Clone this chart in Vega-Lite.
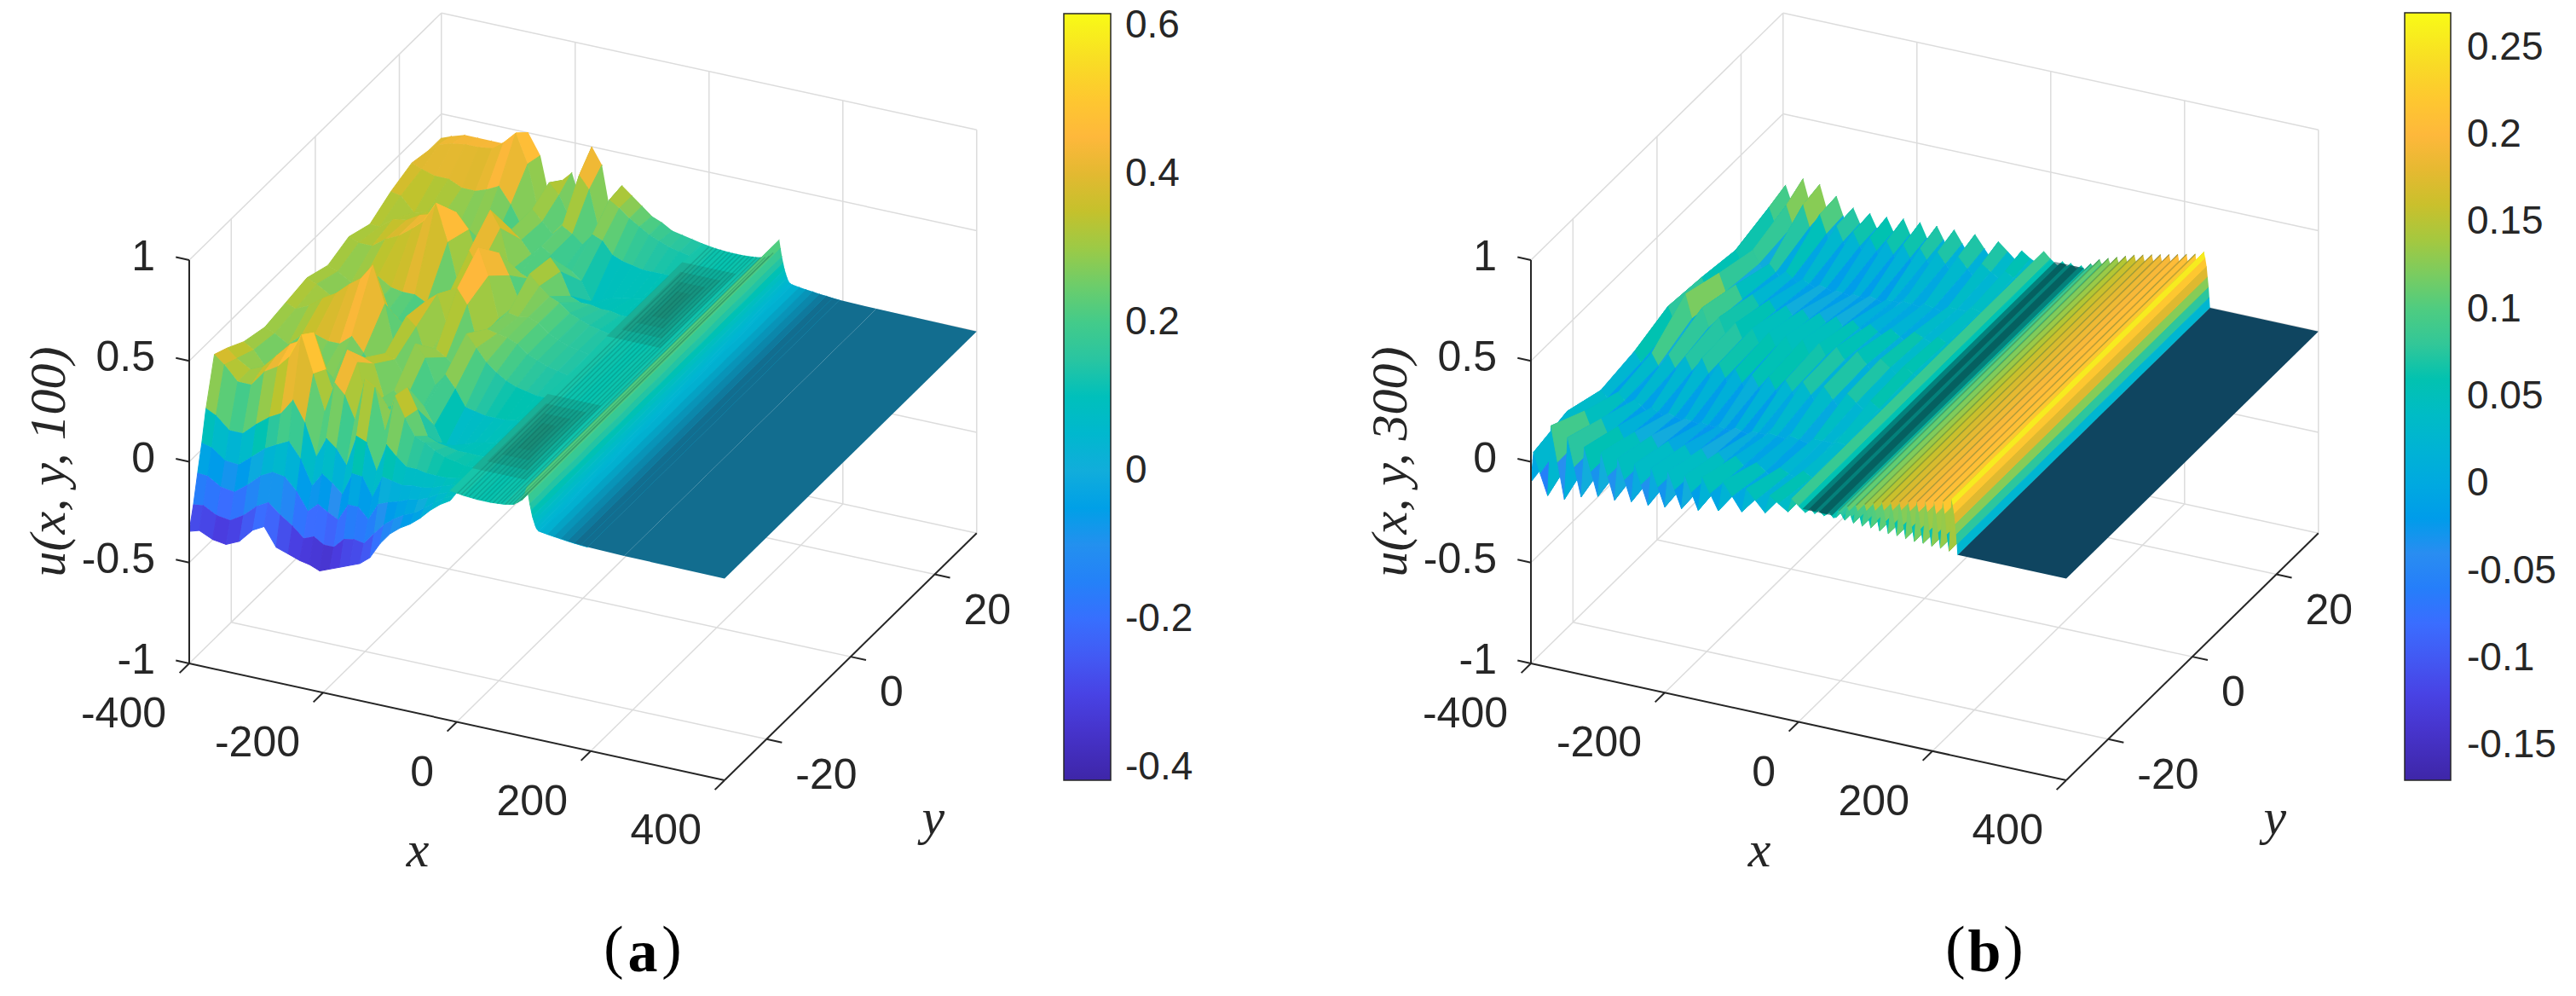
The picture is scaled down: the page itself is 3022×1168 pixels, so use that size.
{"$schema":"https://vega.github.io/schema/vega-lite/v6.json","width":3022,"height":1168,"padding":0,"autosize":{"type":"fit","contains":"padding"},"background":"white","config":{"view":{"stroke":null}},
"datasets":{
"surfA":[
{"x":-400,"y":30,"u":0.38},{"x":-400,"y":27,"u":0.38},{"x":-400,"y":23,"u":0.4},{"x":-400,"y":18,"u":0.36},{"x":-400,"y":13,"u":0.3},{"x":-400,"y":8,"u":0.34},{"x":-400,"y":3,"u":0.3},{"x":-400,"y":-2,"u":0.34},{"x":-400,"y":-7,"u":0.32},{"x":-400,"y":-12,"u":0.3},{"x":-400,"y":-17,"u":0.33},{"x":-400,"y":-21,"u":0.38},{"x":-400,"y":-24,"u":0.41},{"x":-400,"y":-26,"u":0.184},{"x":-400,"y":-27,"u":0.033},{"x":-400,"y":-28,"u":-0.096},{"x":-400,"y":-29,"u":-0.232},{"x":-400,"y":-30,"u":-0.345},
{"x":-385,"y":30,"u":0.4},{"x":-385,"y":27,"u":0.42},{"x":-385,"y":23,"u":0.38},{"x":-385,"y":18,"u":0.35},{"x":-385,"y":13,"u":0.3},{"x":-385,"y":8,"u":0.32},{"x":-385,"y":3,"u":0.28},{"x":-385,"y":-2,"u":0.32},{"x":-385,"y":-7,"u":0.3},{"x":-385,"y":-12,"u":0.28},{"x":-385,"y":-17,"u":0.3},{"x":-385,"y":-21,"u":0.34},{"x":-385,"y":-24,"u":0.37},{"x":-385,"y":-26,"u":0.16},{"x":-385,"y":-27,"u":0.02},{"x":-385,"y":-28,"u":-0.1},{"x":-385,"y":-29,"u":-0.225},{"x":-385,"y":-30,"u":-0.33},
{"x":-365,"y":30,"u":0.42},{"x":-365,"y":27,"u":0.44},{"x":-365,"y":23,"u":0.36},{"x":-365,"y":18,"u":0.28},{"x":-365,"y":13,"u":0.35},{"x":-365,"y":8,"u":0.32},{"x":-365,"y":3,"u":0.24},{"x":-365,"y":-2,"u":0.28},{"x":-365,"y":-7,"u":0.33},{"x":-365,"y":-12,"u":0.24},{"x":-365,"y":-17,"u":0.22},{"x":-365,"y":-21,"u":0.3},{"x":-365,"y":-24,"u":0.3},{"x":-365,"y":-26,"u":0.1},{"x":-365,"y":-27,"u":-0.03},{"x":-365,"y":-28,"u":-0.14},{"x":-365,"y":-29,"u":-0.26},{"x":-365,"y":-30,"u":-0.36},
{"x":-345,"y":30,"u":0.42},{"x":-345,"y":27,"u":0.45},{"x":-345,"y":23,"u":0.36},{"x":-345,"y":18,"u":0.3},{"x":-345,"y":13,"u":0.36},{"x":-345,"y":8,"u":0.37},{"x":-345,"y":3,"u":0.28},{"x":-345,"y":-2,"u":0.3},{"x":-345,"y":-7,"u":0.38},{"x":-345,"y":-12,"u":0.3},{"x":-345,"y":-17,"u":0.25},{"x":-345,"y":-21,"u":0.33},{"x":-345,"y":-24,"u":0.3},{"x":-345,"y":-26,"u":0.1},{"x":-345,"y":-27,"u":-0.035},{"x":-345,"y":-28,"u":-0.15},{"x":-345,"y":-29,"u":-0.27},{"x":-345,"y":-30,"u":-0.37},
{"x":-325,"y":30,"u":0.42},{"x":-325,"y":27,"u":0.45},{"x":-325,"y":23,"u":0.33},{"x":-325,"y":18,"u":0.28},{"x":-325,"y":13,"u":0.4},{"x":-325,"y":8,"u":0.4},{"x":-325,"y":3,"u":0.3},{"x":-325,"y":-2,"u":0.28},{"x":-325,"y":-7,"u":0.42},{"x":-325,"y":-12,"u":0.32},{"x":-325,"y":-17,"u":0.25},{"x":-325,"y":-21,"u":0.4},{"x":-325,"y":-24,"u":0.38},{"x":-325,"y":-26,"u":0.16},{"x":-325,"y":-27,"u":0.02},{"x":-325,"y":-28,"u":-0.1},{"x":-325,"y":-29,"u":-0.23},{"x":-325,"y":-30,"u":-0.34},
{"x":-305,"y":30,"u":0.42},{"x":-305,"y":27,"u":0.46},{"x":-305,"y":23,"u":0.33},{"x":-305,"y":18,"u":0.22},{"x":-305,"y":13,"u":0.42},{"x":-305,"y":8,"u":0.45},{"x":-305,"y":3,"u":0.26},{"x":-305,"y":-2,"u":0.25},{"x":-305,"y":-7,"u":0.48},{"x":-305,"y":-12,"u":0.3},{"x":-305,"y":-17,"u":0.22},{"x":-305,"y":-21,"u":0.47},{"x":-305,"y":-24,"u":0.42},{"x":-305,"y":-26,"u":0.21},{"x":-305,"y":-27,"u":0.075},{"x":-305,"y":-28,"u":-0.04},{"x":-305,"y":-29,"u":-0.17},{"x":-305,"y":-30,"u":-0.27},
{"x":-288,"y":30,"u":0.45},{"x":-288,"y":27,"u":0.5},{"x":-288,"y":23,"u":0.35},{"x":-288,"y":18,"u":0.2},{"x":-288,"y":13,"u":0.45},{"x":-288,"y":8,"u":0.5},{"x":-288,"y":3,"u":0.25},{"x":-288,"y":-2,"u":0.22},{"x":-288,"y":-7,"u":0.52},{"x":-288,"y":-12,"u":0.3},{"x":-288,"y":-17,"u":0.22},{"x":-288,"y":-21,"u":0.5},{"x":-288,"y":-24,"u":0.48},{"x":-288,"y":-26,"u":0.24},{"x":-288,"y":-27,"u":0.105},{"x":-288,"y":-28,"u":-0.01},{"x":-288,"y":-29,"u":-0.14},{"x":-288,"y":-30,"u":-0.24},
{"x":-270,"y":30,"u":0.5},{"x":-270,"y":27,"u":0.56},{"x":-270,"y":23,"u":0.38},{"x":-270,"y":18,"u":0.2},{"x":-270,"y":13,"u":0.45},{"x":-270,"y":8,"u":0.6},{"x":-270,"y":3,"u":0.25},{"x":-270,"y":-2,"u":0.2},{"x":-270,"y":-7,"u":0.6},{"x":-270,"y":-12,"u":0.35},{"x":-270,"y":-17,"u":0.22},{"x":-270,"y":-21,"u":0.55},{"x":-270,"y":-24,"u":0.6},{"x":-270,"y":-26,"u":0.32},{"x":-270,"y":-27,"u":0.135},{"x":-270,"y":-28,"u":-0.02},{"x":-270,"y":-29,"u":-0.19},{"x":-270,"y":-30,"u":-0.33},
{"x":-252,"y":30,"u":0.4},{"x":-252,"y":27,"u":0.42},{"x":-252,"y":23,"u":0.3},{"x":-252,"y":18,"u":0.18},{"x":-252,"y":13,"u":0.38},{"x":-252,"y":8,"u":0.42},{"x":-252,"y":3,"u":0.22},{"x":-252,"y":-2,"u":0.2},{"x":-252,"y":-7,"u":0.42},{"x":-252,"y":-12,"u":0.28},{"x":-252,"y":-17,"u":0.2},{"x":-252,"y":-21,"u":0.38},{"x":-252,"y":-24,"u":0.42},{"x":-252,"y":-26,"u":0.22},{"x":-252,"y":-27,"u":0.06},{"x":-252,"y":-28,"u":-0.08},{"x":-252,"y":-29,"u":-0.23},{"x":-252,"y":-30,"u":-0.35},
{"x":-235,"y":30,"u":0.15},{"x":-235,"y":27,"u":0.18},{"x":-235,"y":23,"u":0.2},{"x":-235,"y":18,"u":0.18},{"x":-235,"y":13,"u":0.22},{"x":-235,"y":8,"u":0.2},{"x":-235,"y":3,"u":0.16},{"x":-235,"y":-2,"u":0.14},{"x":-235,"y":-7,"u":0.18},{"x":-235,"y":-12,"u":0.2},{"x":-235,"y":-17,"u":0.18},{"x":-235,"y":-21,"u":0.22},{"x":-235,"y":-24,"u":0.25},{"x":-235,"y":-26,"u":0.065},{"x":-235,"y":-27,"u":-0.06},{"x":-235,"y":-28,"u":-0.165},{"x":-235,"y":-29,"u":-0.28},{"x":-235,"y":-30,"u":-0.37},
{"x":-220,"y":30,"u":0.3},{"x":-220,"y":27,"u":0.35},{"x":-220,"y":23,"u":0.3},{"x":-220,"y":18,"u":0.3},{"x":-220,"y":13,"u":0.5},{"x":-220,"y":8,"u":0.4},{"x":-220,"y":3,"u":0.28},{"x":-220,"y":-2,"u":0.36},{"x":-220,"y":-7,"u":0.38},{"x":-220,"y":-12,"u":0.3},{"x":-220,"y":-17,"u":0.38},{"x":-220,"y":-21,"u":0.5},{"x":-220,"y":-24,"u":0.4},{"x":-220,"y":-26,"u":0.165},{"x":-220,"y":-27,"u":0.01},{"x":-220,"y":-28,"u":-0.12},{"x":-220,"y":-29,"u":-0.26},{"x":-220,"y":-30,"u":-0.38},
{"x":-205,"y":30,"u":0.35},{"x":-205,"y":27,"u":0.3},{"x":-205,"y":23,"u":0.25},{"x":-205,"y":18,"u":0.26},{"x":-205,"y":13,"u":0.42},{"x":-205,"y":8,"u":0.32},{"x":-205,"y":3,"u":0.33},{"x":-205,"y":-2,"u":0.4},{"x":-205,"y":-7,"u":0.34},{"x":-205,"y":-12,"u":0.28},{"x":-205,"y":-17,"u":0.36},{"x":-205,"y":-21,"u":0.45},{"x":-205,"y":-24,"u":0.35},{"x":-205,"y":-26,"u":0.125},{"x":-205,"y":-27,"u":-0.025},{"x":-205,"y":-28,"u":-0.15},{"x":-205,"y":-29,"u":-0.29},{"x":-205,"y":-30,"u":-0.4},
{"x":-190,"y":30,"u":0.2},{"x":-190,"y":27,"u":0.2},{"x":-190,"y":23,"u":0.2},{"x":-190,"y":18,"u":0.2},{"x":-190,"y":13,"u":0.22},{"x":-190,"y":8,"u":0.22},{"x":-190,"y":3,"u":0.3},{"x":-190,"y":-2,"u":0.25},{"x":-190,"y":-7,"u":0.2},{"x":-190,"y":-12,"u":0.2},{"x":-190,"y":-17,"u":0.2},{"x":-190,"y":-21,"u":0.24},{"x":-190,"y":-24,"u":0.24},{"x":-190,"y":-26,"u":0.055},{"x":-190,"y":-27,"u":-0.07},{"x":-190,"y":-28,"u":-0.175},{"x":-190,"y":-29,"u":-0.29},{"x":-190,"y":-30,"u":-0.38},
{"x":-175,"y":30,"u":0.5},{"x":-175,"y":27,"u":0.42},{"x":-175,"y":23,"u":0.25},{"x":-175,"y":18,"u":0.25},{"x":-175,"y":13,"u":0.22},{"x":-175,"y":8,"u":0.42},{"x":-175,"y":3,"u":0.55},{"x":-175,"y":-2,"u":0.45},{"x":-175,"y":-7,"u":0.25},{"x":-175,"y":-12,"u":0.38},{"x":-175,"y":-17,"u":0.25},{"x":-175,"y":-21,"u":0.28},{"x":-175,"y":-24,"u":0.45},{"x":-175,"y":-26,"u":0.21},{"x":-175,"y":-27,"u":0.045},{"x":-175,"y":-28,"u":-0.09},{"x":-175,"y":-29,"u":-0.24},{"x":-175,"y":-30,"u":-0.36},
{"x":-160,"y":30,"u":0.42},{"x":-160,"y":27,"u":0.36},{"x":-160,"y":23,"u":0.22},{"x":-160,"y":18,"u":0.22},{"x":-160,"y":13,"u":0.2},{"x":-160,"y":8,"u":0.32},{"x":-160,"y":3,"u":0.42},{"x":-160,"y":-2,"u":0.38},{"x":-160,"y":-7,"u":0.22},{"x":-160,"y":-12,"u":0.32},{"x":-160,"y":-17,"u":0.2},{"x":-160,"y":-21,"u":0.26},{"x":-160,"y":-24,"u":0.42},{"x":-160,"y":-26,"u":0.19},{"x":-160,"y":-27,"u":0.04},{"x":-160,"y":-28,"u":-0.09},{"x":-160,"y":-29,"u":-0.23},{"x":-160,"y":-30,"u":-0.34},
{"x":-145,"y":30,"u":0.15},{"x":-145,"y":27,"u":0.16},{"x":-145,"y":23,"u":0.18},{"x":-145,"y":18,"u":0.14},{"x":-145,"y":13,"u":0.18},{"x":-145,"y":8,"u":0.2},{"x":-145,"y":3,"u":0.22},{"x":-145,"y":-2,"u":0.2},{"x":-145,"y":-7,"u":0.18},{"x":-145,"y":-12,"u":0.2},{"x":-145,"y":-17,"u":0.12},{"x":-145,"y":-21,"u":0.22},{"x":-145,"y":-24,"u":0.22},{"x":-145,"y":-26,"u":0.06},{"x":-145,"y":-27,"u":-0.05},{"x":-145,"y":-28,"u":-0.14},{"x":-145,"y":-29,"u":-0.24},{"x":-145,"y":-30,"u":-0.32},
{"x":-130,"y":30,"u":0.34},{"x":-130,"y":27,"u":0.33},{"x":-130,"y":23,"u":0.24},{"x":-130,"y":18,"u":0.16},{"x":-130,"y":13,"u":0.33},{"x":-130,"y":8,"u":0.35},{"x":-130,"y":3,"u":0.26},{"x":-130,"y":-2,"u":0.28},{"x":-130,"y":-7,"u":0.36},{"x":-130,"y":-12,"u":0.26},{"x":-130,"y":-17,"u":0.2},{"x":-130,"y":-21,"u":0.38},{"x":-130,"y":-24,"u":0.4},{"x":-130,"y":-26,"u":0.2},{"x":-130,"y":-27,"u":0.06},{"x":-130,"y":-28,"u":-0.055},{"x":-130,"y":-29,"u":-0.18},{"x":-130,"y":-30,"u":-0.28},
{"x":-115,"y":30,"u":0.3},{"x":-115,"y":27,"u":0.3},{"x":-115,"y":23,"u":0.22},{"x":-115,"y":18,"u":0.12},{"x":-115,"y":13,"u":0.27},{"x":-115,"y":8,"u":0.3},{"x":-115,"y":3,"u":0.25},{"x":-115,"y":-2,"u":0.27},{"x":-115,"y":-7,"u":0.3},{"x":-115,"y":-12,"u":0.2},{"x":-115,"y":-17,"u":0.12},{"x":-115,"y":-21,"u":0.28},{"x":-115,"y":-24,"u":0.3},{"x":-115,"y":-26,"u":0.15},{"x":-115,"y":-27,"u":0.05},{"x":-115,"y":-28,"u":-0.035},{"x":-115,"y":-29,"u":-0.125},{"x":-115,"y":-30,"u":-0.2},
{"x":-100,"y":30,"u":0.26},{"x":-100,"y":27,"u":0.26},{"x":-100,"y":23,"u":0.16},{"x":-100,"y":18,"u":0.03},{"x":-100,"y":13,"u":0.16},{"x":-100,"y":8,"u":0.26},{"x":-100,"y":3,"u":0.26},{"x":-100,"y":-2,"u":0.26},{"x":-100,"y":-7,"u":0.24},{"x":-100,"y":-12,"u":0.12},{"x":-100,"y":-17,"u":0.02},{"x":-100,"y":-21,"u":0.16},{"x":-100,"y":-24,"u":0.22},{"x":-100,"y":-26,"u":0.11},{"x":-100,"y":-27,"u":0.04},{"x":-100,"y":-28,"u":-0.02},{"x":-100,"y":-29,"u":-0.085},{"x":-100,"y":-30,"u":-0.14},
{"x":-85,"y":30,"u":0.22},{"x":-85,"y":27,"u":0.23},{"x":-85,"y":23,"u":0.14},{"x":-85,"y":18,"u":0.05},{"x":-85,"y":13,"u":0.14},{"x":-85,"y":8,"u":0.24},{"x":-85,"y":3,"u":0.24},{"x":-85,"y":-2,"u":0.24},{"x":-85,"y":-7,"u":0.2},{"x":-85,"y":-12,"u":0.11},{"x":-85,"y":-17,"u":0.04},{"x":-85,"y":-21,"u":0.14},{"x":-85,"y":-24,"u":0.2},{"x":-85,"y":-26,"u":0.11},{"x":-85,"y":-27,"u":0.05},{"x":-85,"y":-28,"u":0},{"x":-85,"y":-29,"u":-0.055},{"x":-85,"y":-30,"u":-0.1},
{"x":-70,"y":30,"u":0.2},{"x":-70,"y":27,"u":0.2},{"x":-70,"y":23,"u":0.13},{"x":-70,"y":18,"u":0.07},{"x":-70,"y":13,"u":0.14},{"x":-70,"y":8,"u":0.2},{"x":-70,"y":3,"u":0.2},{"x":-70,"y":-2,"u":0.2},{"x":-70,"y":-7,"u":0.17},{"x":-70,"y":-12,"u":0.1},{"x":-70,"y":-17,"u":0.06},{"x":-70,"y":-21,"u":0.13},{"x":-70,"y":-24,"u":0.17},{"x":-70,"y":-26,"u":0.1},{"x":-70,"y":-27,"u":0.05},{"x":-70,"y":-28,"u":0.01},{"x":-70,"y":-29,"u":-0.035},{"x":-70,"y":-30,"u":-0.07},
{"x":-55,"y":30,"u":0.17},{"x":-55,"y":27,"u":0.18},{"x":-55,"y":23,"u":0.12},{"x":-55,"y":18,"u":0.08},{"x":-55,"y":13,"u":0.13},{"x":-55,"y":8,"u":0.18},{"x":-55,"y":3,"u":0.18},{"x":-55,"y":-2,"u":0.18},{"x":-55,"y":-7,"u":0.15},{"x":-55,"y":-12,"u":0.1},{"x":-55,"y":-17,"u":0.08},{"x":-55,"y":-21,"u":0.12},{"x":-55,"y":-24,"u":0.15},{"x":-55,"y":-26,"u":0.1},{"x":-55,"y":-27,"u":0.06},{"x":-55,"y":-28,"u":0.03},{"x":-55,"y":-29,"u":0},{"x":-55,"y":-30,"u":-0.03},
{"x":-40,"y":30,"u":0.16},{"x":-40,"y":27,"u":0.16},{"x":-40,"y":23,"u":0.12},{"x":-40,"y":18,"u":0.09},{"x":-40,"y":13,"u":0.13},{"x":-40,"y":8,"u":0.16},{"x":-40,"y":3,"u":0.16},{"x":-40,"y":-2,"u":0.16},{"x":-40,"y":-7,"u":0.14},{"x":-40,"y":-12,"u":0.1},{"x":-40,"y":-17,"u":0.09},{"x":-40,"y":-21,"u":0.12},{"x":-40,"y":-24,"u":0.14},{"x":-40,"y":-26,"u":0.1},{"x":-40,"y":-27,"u":0.08},{"x":-40,"y":-28,"u":0.06},{"x":-40,"y":-29,"u":0.04},{"x":-40,"y":-30,"u":0.02},
{"x":-25,"y":30,"u":0.15},{"x":-25,"y":27,"u":0.15},{"x":-25,"y":23,"u":0.12},{"x":-25,"y":18,"u":0.1},{"x":-25,"y":13,"u":0.12},{"x":-25,"y":8,"u":0.15},{"x":-25,"y":3,"u":0.15},{"x":-25,"y":-2,"u":0.15},{"x":-25,"y":-7,"u":0.13},{"x":-25,"y":-12,"u":0.11},{"x":-25,"y":-17,"u":0.1},{"x":-25,"y":-21,"u":0.12},{"x":-25,"y":-24,"u":0.13},{"x":-25,"y":-26,"u":0.11},{"x":-25,"y":-27,"u":0.095},{"x":-25,"y":-28,"u":0.08},{"x":-25,"y":-29,"u":0.07},{"x":-25,"y":-30,"u":0.06},
{"x":-10,"y":30,"u":0.14},{"x":-10,"y":27,"u":0.14},{"x":-10,"y":23,"u":0.12},{"x":-10,"y":18,"u":0.1},{"x":-10,"y":13,"u":0.12},{"x":-10,"y":8,"u":0.14},{"x":-10,"y":3,"u":0.14},{"x":-10,"y":-2,"u":0.14},{"x":-10,"y":-7,"u":0.13},{"x":-10,"y":-12,"u":0.11},{"x":-10,"y":-17,"u":0.1},{"x":-10,"y":-21,"u":0.12},{"x":-10,"y":-24,"u":0.13},{"x":-10,"y":-26,"u":0.12},{"x":-10,"y":-27,"u":0.11},{"x":-10,"y":-28,"u":0.1},{"x":-10,"y":-29,"u":0.095},{"x":-10,"y":-30,"u":0.09},
{"x":-9.9,"y":30,"u":0.14},{"x":-9.9,"y":-30,"u":0.14},{"x":10,"y":30,"u":0.13},{"x":10,"y":-30,"u":0.13},{"x":30,"y":30,"u":0.125},{"x":30,"y":-30,"u":0.125},{"x":50,"y":30,"u":0.125},{"x":50,"y":-30,"u":0.125},{"x":70,"y":30,"u":0.13},{"x":70,"y":-30,"u":0.13},{"x":85,"y":30,"u":0.14},{"x":85,"y":-30,"u":0.14},{"x":97,"y":30,"u":0.17},{"x":97,"y":-30,"u":0.17},{"x":102,"y":30,"u":0.21},{"x":102,"y":-30,"u":0.21},{"x":105,"y":30,"u":0.24},{"x":105,"y":-30,"u":0.24},{"x":107,"y":30,"u":0.2},{"x":107,"y":-30,"u":0.2},{"x":109,"y":30,"u":0.16},{"x":109,"y":-30,"u":0.16},{"x":111,"y":30,"u":0.13},{"x":111,"y":-30,"u":0.13},{"x":113,"y":30,"u":0.1},{"x":113,"y":-30,"u":0.1},{"x":115,"y":30,"u":0.08},{"x":115,"y":-30,"u":0.08},{"x":117,"y":30,"u":0.06},{"x":117,"y":-30,"u":0.06},{"x":119,"y":30,"u":0.045},{"x":119,"y":-30,"u":0.045},{"x":122,"y":30,"u":0.035},{"x":122,"y":-30,"u":0.035},{"x":125,"y":30,"u":0.033},{"x":125,"y":-30,"u":0.033},{"x":135,"y":30,"u":0.028},{"x":135,"y":-30,"u":0.028},{"x":145,"y":30,"u":0.024},{"x":145,"y":-30,"u":0.024},{"x":155,"y":30,"u":0.02},{"x":155,"y":-30,"u":0.02},{"x":165,"y":30,"u":0.016},{"x":165,"y":-30,"u":0.016},{"x":175,"y":30,"u":0.013},{"x":175,"y":-30,"u":0.013},{"x":185,"y":30,"u":0.01},{"x":185,"y":-30,"u":0.01},{"x":195,"y":30,"u":0.008},{"x":195,"y":-30,"u":0.008}],
"plateA":[{"x":125,"y":30,"u":0.033},{"x":125,"y":-30,"u":0.033},{"x":135,"y":30,"u":0.028},{"x":135,"y":-30,"u":0.028},{"x":145,"y":30,"u":0.024},{"x":145,"y":-30,"u":0.024},{"x":155,"y":30,"u":0.02},{"x":155,"y":-30,"u":0.02},{"x":165,"y":30,"u":0.016},{"x":165,"y":-30,"u":0.016},{"x":175,"y":30,"u":0.013},{"x":175,"y":-30,"u":0.013},{"x":185,"y":30,"u":0.01},{"x":185,"y":-30,"u":0.01},{"x":195,"y":30,"u":0.008},{"x":195,"y":-30,"u":0.008},{"x":250,"y":30,"u":0.004},{"x":250,"y":-30,"u":0.004},{"x":400,"y":30,"u":0},{"x":400,"y":-30,"u":0}],
"patchA":[{"g":1,"x":-15,"y":-6,"u":0.125},{"g":1,"x":-15,"y":-24,"u":0.125},{"g":1,"x":65,"y":-6,"u":0.125},{"g":1,"x":65,"y":-24,"u":0.125},{"g":2,"x":-5,"y":-8,"u":0.125},{"g":2,"x":-5,"y":-22,"u":0.125},{"g":2,"x":55,"y":-8,"u":0.125},{"g":2,"x":55,"y":-22,"u":0.125},{"g":3,"x":5,"y":-10,"u":0.125},{"g":3,"x":5,"y":-20,"u":0.125},{"g":3,"x":45,"y":-10,"u":0.125},{"g":3,"x":45,"y":-20,"u":0.125},{"g":4,"x":15,"y":-12,"u":0.125},{"g":4,"x":15,"y":-18,"u":0.125},{"g":4,"x":35,"y":-12,"u":0.125},{"g":4,"x":35,"y":-18,"u":0.125},
{"g":5,"x":-15,"y":26,"u":0.125},{"g":5,"x":-15,"y":8,"u":0.125},{"g":5,"x":65,"y":26,"u":0.125},{"g":5,"x":65,"y":8,"u":0.125},{"g":6,"x":-5,"y":24,"u":0.125},{"g":6,"x":-5,"y":10,"u":0.125},{"g":6,"x":55,"y":24,"u":0.125},{"g":6,"x":55,"y":10,"u":0.125},{"g":7,"x":5,"y":22,"u":0.125},{"g":7,"x":5,"y":12,"u":0.125},{"g":7,"x":45,"y":22,"u":0.125},{"g":7,"x":45,"y":12,"u":0.125},{"g":8,"x":15,"y":20,"u":0.125},{"g":8,"x":15,"y":14,"u":0.125},{"g":8,"x":35,"y":20,"u":0.125},{"g":8,"x":35,"y":14,"u":0.125}],
"linesA":[{"x":0,"u":0.13},{"x":6,"u":0.13},{"x":12,"u":0.13},{"x":18,"u":0.13},{"x":24,"u":0.125},{"x":30,"u":0.125},{"x":36,"u":0.125},{"x":42,"u":0.125},{"x":48,"u":0.125},{"x":54,"u":0.125},{"x":60,"u":0.125},{"x":66,"u":0.13},{"x":72,"u":0.13},{"x":78,"u":0.135},{"x":84,"u":0.14},{"x":90,"u":0.15},{"x":96,"u":0.17}],
"linesB":[{"x":60,"u":0.09},{"x":73,"u":0.12},{"x":86,"u":0.135},{"x":99,"u":0.15},{"x":112,"u":0.165},{"x":125,"u":0.18},{"x":138,"u":0.19},{"x":151,"u":0.2},{"x":164,"u":0.21},{"x":177,"u":0.22},{"x":190,"u":0.23},{"x":203,"u":0.24},{"x":216,"u":0.25}],
"surfB":[
{"x":-400,"y":30,"u":0.05},{"x":-400,"y":26,"u":0.02},{"x":-400,"y":18,"u":0},{"x":-400,"y":10,"u":0.02},{"x":-400,"y":2,"u":0.02},{"x":-400,"y":-6,"u":-0.02},{"x":-400,"y":-14,"u":-0.03},{"x":-400,"y":-22,"u":-0.05},{"x":-400,"y":-30,"u":-0.1},
{"x":-396,"y":30,"u":0.15},{"x":-396,"y":26,"u":0.12},{"x":-396,"y":18,"u":0.07},{"x":-396,"y":10,"u":0.1},{"x":-396,"y":2,"u":0.12},{"x":-396,"y":-6,"u":0.06},{"x":-396,"y":-14,"u":0.03},{"x":-396,"y":-22,"u":0.09},{"x":-396,"y":-30,"u":0.05},
{"x":-386,"y":30,"u":0.06},{"x":-386,"y":26,"u":0.04},{"x":-386,"y":18,"u":0.02},{"x":-386,"y":10,"u":0.035},{"x":-386,"y":2,"u":0.045},{"x":-386,"y":-6,"u":0.01},{"x":-386,"y":-14,"u":0},{"x":-386,"y":-22,"u":0.02},{"x":-386,"y":-30,"u":-0.05},
{"x":-375,"y":30,"u":-0.03},{"x":-375,"y":26,"u":-0.04},{"x":-375,"y":18,"u":-0.03},{"x":-375,"y":10,"u":-0.03},{"x":-375,"y":2,"u":-0.03},{"x":-375,"y":-6,"u":-0.04},{"x":-375,"y":-14,"u":-0.03},{"x":-375,"y":-22,"u":-0.05},{"x":-375,"y":-30,"u":-0.15},
{"x":-370,"y":30,"u":0.2},{"x":-370,"y":26,"u":0.15},{"x":-370,"y":18,"u":0.09},{"x":-370,"y":10,"u":0.14},{"x":-370,"y":2,"u":0.2},{"x":-370,"y":-6,"u":0.07},{"x":-370,"y":-14,"u":0.04},{"x":-370,"y":-22,"u":0.11},{"x":-370,"y":-30,"u":0.2},
{"x":-360,"y":30,"u":0.085},{"x":-360,"y":26,"u":0.055},{"x":-360,"y":18,"u":0.03},{"x":-360,"y":10,"u":0.055},{"x":-360,"y":2,"u":0.085},{"x":-360,"y":-6,"u":0.015},{"x":-360,"y":-14,"u":0.005},{"x":-360,"y":-22,"u":0.03},{"x":-360,"y":-30,"u":0.025},
{"x":-350,"y":30,"u":-0.03},{"x":-350,"y":26,"u":-0.04},{"x":-350,"y":18,"u":-0.03},{"x":-350,"y":10,"u":-0.03},{"x":-350,"y":2,"u":-0.03},{"x":-350,"y":-6,"u":-0.04},{"x":-350,"y":-14,"u":-0.03},{"x":-350,"y":-22,"u":-0.05},{"x":-350,"y":-30,"u":-0.15},
{"x":-345,"y":30,"u":0.19},{"x":-345,"y":26,"u":0.17},{"x":-345,"y":18,"u":0.04},{"x":-345,"y":10,"u":0.1},{"x":-345,"y":2,"u":0.15},{"x":-345,"y":-6,"u":0.08},{"x":-345,"y":-14,"u":0.02},{"x":-345,"y":-22,"u":0.09},{"x":-345,"y":-30,"u":0.16},
{"x":-335,"y":30,"u":0.08},{"x":-335,"y":26,"u":0.065},{"x":-335,"y":18,"u":0.005},{"x":-335,"y":10,"u":0.035},{"x":-335,"y":2,"u":0.06},{"x":-335,"y":-6,"u":0.02},{"x":-335,"y":-14,"u":-0.005},{"x":-335,"y":-22,"u":0.02},{"x":-335,"y":-30,"u":0.02},
{"x":-325,"y":30,"u":-0.03},{"x":-325,"y":26,"u":-0.04},{"x":-325,"y":18,"u":-0.03},{"x":-325,"y":10,"u":-0.03},{"x":-325,"y":2,"u":-0.03},{"x":-325,"y":-6,"u":-0.04},{"x":-325,"y":-14,"u":-0.03},{"x":-325,"y":-22,"u":-0.05},{"x":-325,"y":-30,"u":-0.12},
{"x":-320,"y":30,"u":0.15},{"x":-320,"y":26,"u":0.14},{"x":-320,"y":18,"u":0.02},{"x":-320,"y":10,"u":0.07},{"x":-320,"y":2,"u":0.12},{"x":-320,"y":-6,"u":0.09},{"x":-320,"y":-14,"u":0},{"x":-320,"y":-22,"u":0.07},{"x":-320,"y":-30,"u":0.13},
{"x":-310,"y":30,"u":0.06},{"x":-310,"y":26,"u":0.05},{"x":-310,"y":18,"u":-0.005},{"x":-310,"y":10,"u":0.02},{"x":-310,"y":2,"u":0.045},{"x":-310,"y":-6,"u":0.025},{"x":-310,"y":-14,"u":-0.015},{"x":-310,"y":-22,"u":0.01},{"x":-310,"y":-30,"u":0.015},
{"x":-300,"y":30,"u":-0.03},{"x":-300,"y":26,"u":-0.04},{"x":-300,"y":18,"u":-0.03},{"x":-300,"y":10,"u":-0.03},{"x":-300,"y":2,"u":-0.03},{"x":-300,"y":-6,"u":-0.04},{"x":-300,"y":-14,"u":-0.03},{"x":-300,"y":-22,"u":-0.05},{"x":-300,"y":-30,"u":-0.1},
{"x":-295,"y":30,"u":0.11},{"x":-295,"y":26,"u":0.1},{"x":-295,"y":18,"u":0},{"x":-295,"y":10,"u":0.06},{"x":-295,"y":2,"u":0.11},{"x":-295,"y":-6,"u":0.1},{"x":-295,"y":-14,"u":-0.01},{"x":-295,"y":-22,"u":0.06},{"x":-295,"y":-30,"u":0.12},
{"x":-285,"y":30,"u":0.04},{"x":-285,"y":26,"u":0.03},{"x":-285,"y":18,"u":-0.015},{"x":-285,"y":10,"u":0.015},{"x":-285,"y":2,"u":0.04},{"x":-285,"y":-6,"u":0.03},{"x":-285,"y":-14,"u":-0.02},{"x":-285,"y":-22,"u":0.005},{"x":-285,"y":-30,"u":0.01},
{"x":-275,"y":30,"u":-0.03},{"x":-275,"y":26,"u":-0.04},{"x":-275,"y":18,"u":-0.03},{"x":-275,"y":10,"u":-0.03},{"x":-275,"y":2,"u":-0.03},{"x":-275,"y":-6,"u":-0.04},{"x":-275,"y":-14,"u":-0.03},{"x":-275,"y":-22,"u":-0.05},{"x":-275,"y":-30,"u":-0.1},
{"x":-270,"y":30,"u":0.1},{"x":-270,"y":26,"u":0.09},{"x":-270,"y":18,"u":-0.01},{"x":-270,"y":10,"u":0.05},{"x":-270,"y":2,"u":0.1},{"x":-270,"y":-6,"u":0.09},{"x":-270,"y":-14,"u":-0.02},{"x":-270,"y":-22,"u":0.06},{"x":-270,"y":-30,"u":0.11},
{"x":-260,"y":30,"u":0.035},{"x":-260,"y":26,"u":0.025},{"x":-260,"y":18,"u":-0.02},{"x":-260,"y":10,"u":0.01},{"x":-260,"y":2,"u":0.035},{"x":-260,"y":-6,"u":0.025},{"x":-260,"y":-14,"u":-0.025},{"x":-260,"y":-22,"u":0.005},{"x":-260,"y":-30,"u":0.01},
{"x":-250,"y":30,"u":-0.03},{"x":-250,"y":26,"u":-0.04},{"x":-250,"y":18,"u":-0.03},{"x":-250,"y":10,"u":-0.03},{"x":-250,"y":2,"u":-0.03},{"x":-250,"y":-6,"u":-0.04},{"x":-250,"y":-14,"u":-0.03},{"x":-250,"y":-22,"u":-0.05},{"x":-250,"y":-30,"u":-0.09},
{"x":-245,"y":30,"u":0.1},{"x":-245,"y":26,"u":0.08},{"x":-245,"y":18,"u":-0.02},{"x":-245,"y":10,"u":0.05},{"x":-245,"y":2,"u":0.1},{"x":-245,"y":-6,"u":0.08},{"x":-245,"y":-14,"u":-0.02},{"x":-245,"y":-22,"u":0.05},{"x":-245,"y":-30,"u":0.1},
{"x":-235,"y":30,"u":0.035},{"x":-235,"y":26,"u":0.02},{"x":-235,"y":18,"u":-0.025},{"x":-235,"y":10,"u":0.01},{"x":-235,"y":2,"u":0.035},{"x":-235,"y":-6,"u":0.02},{"x":-235,"y":-14,"u":-0.025},{"x":-235,"y":-22,"u":0},{"x":-235,"y":-30,"u":0.005},
{"x":-225,"y":30,"u":-0.03},{"x":-225,"y":26,"u":-0.04},{"x":-225,"y":18,"u":-0.03},{"x":-225,"y":10,"u":-0.03},{"x":-225,"y":2,"u":-0.03},{"x":-225,"y":-6,"u":-0.04},{"x":-225,"y":-14,"u":-0.03},{"x":-225,"y":-22,"u":-0.05},{"x":-225,"y":-30,"u":-0.09},
{"x":-220,"y":30,"u":0.11},{"x":-220,"y":26,"u":0.08},{"x":-220,"y":18,"u":-0.02},{"x":-220,"y":10,"u":0.05},{"x":-220,"y":2,"u":0.1},{"x":-220,"y":-6,"u":0.07},{"x":-220,"y":-14,"u":-0.02},{"x":-220,"y":-22,"u":0.05},{"x":-220,"y":-30,"u":0.1},
{"x":-210,"y":30,"u":0.04},{"x":-210,"y":26,"u":0.02},{"x":-210,"y":18,"u":-0.025},{"x":-210,"y":10,"u":0.01},{"x":-210,"y":2,"u":0.035},{"x":-210,"y":-6,"u":0.015},{"x":-210,"y":-14,"u":-0.025},{"x":-210,"y":-22,"u":0},{"x":-210,"y":-30,"u":0.01},
{"x":-200,"y":30,"u":-0.03},{"x":-200,"y":26,"u":-0.04},{"x":-200,"y":18,"u":-0.03},{"x":-200,"y":10,"u":-0.03},{"x":-200,"y":2,"u":-0.03},{"x":-200,"y":-6,"u":-0.04},{"x":-200,"y":-14,"u":-0.03},{"x":-200,"y":-22,"u":-0.05},{"x":-200,"y":-30,"u":-0.08},
{"x":-195,"y":30,"u":0.11},{"x":-195,"y":26,"u":0.08},{"x":-195,"y":18,"u":-0.01},{"x":-195,"y":10,"u":0.05},{"x":-195,"y":2,"u":0.1},{"x":-195,"y":-6,"u":0.08},{"x":-195,"y":-14,"u":-0.01},{"x":-195,"y":-22,"u":0.05},{"x":-195,"y":-30,"u":0.1},
{"x":-185,"y":30,"u":0.04},{"x":-185,"y":26,"u":0.02},{"x":-185,"y":18,"u":-0.02},{"x":-185,"y":10,"u":0.01},{"x":-185,"y":2,"u":0.035},{"x":-185,"y":-6,"u":0.02},{"x":-185,"y":-14,"u":-0.02},{"x":-185,"y":-22,"u":0},{"x":-185,"y":-30,"u":0.015},
{"x":-175,"y":30,"u":-0.03},{"x":-175,"y":26,"u":-0.04},{"x":-175,"y":18,"u":-0.03},{"x":-175,"y":10,"u":-0.03},{"x":-175,"y":2,"u":-0.03},{"x":-175,"y":-6,"u":-0.04},{"x":-175,"y":-14,"u":-0.03},{"x":-175,"y":-22,"u":-0.05},{"x":-175,"y":-30,"u":-0.07},
{"x":-170,"y":30,"u":0.11},{"x":-170,"y":26,"u":0.08},{"x":-170,"y":18,"u":-0.01},{"x":-170,"y":10,"u":0.05},{"x":-170,"y":2,"u":0.1},{"x":-170,"y":-6,"u":0.08},{"x":-170,"y":-14,"u":-0.01},{"x":-170,"y":-22,"u":0.05},{"x":-170,"y":-30,"u":0.1},
{"x":-160,"y":30,"u":0.05},{"x":-160,"y":26,"u":0.03},{"x":-160,"y":18,"u":-0.01},{"x":-160,"y":10,"u":0.02},{"x":-160,"y":2,"u":0.045},{"x":-160,"y":-6,"u":0.03},{"x":-160,"y":-14,"u":-0.01},{"x":-160,"y":-22,"u":0.01},{"x":-160,"y":-30,"u":0.02},
{"x":-150,"y":30,"u":-0.01},{"x":-150,"y":26,"u":-0.02},{"x":-150,"y":18,"u":-0.01},{"x":-150,"y":10,"u":-0.01},{"x":-150,"y":2,"u":-0.01},{"x":-150,"y":-6,"u":-0.02},{"x":-150,"y":-14,"u":-0.01},{"x":-150,"y":-22,"u":-0.03},{"x":-150,"y":-30,"u":-0.06},
{"x":-144,"y":30,"u":0.11},{"x":-144,"y":26,"u":0.08},{"x":-144,"y":18,"u":0},{"x":-144,"y":10,"u":0.05},{"x":-144,"y":2,"u":0.1},{"x":-144,"y":-6,"u":0.09},{"x":-144,"y":-14,"u":0},{"x":-144,"y":-22,"u":0.05},{"x":-144,"y":-30,"u":0.11},
{"x":-132,"y":30,"u":0.05},{"x":-132,"y":26,"u":0.03},{"x":-132,"y":18,"u":-0.005},{"x":-132,"y":10,"u":0.02},{"x":-132,"y":2,"u":0.045},{"x":-132,"y":-6,"u":0.035},{"x":-132,"y":-14,"u":-0.005},{"x":-132,"y":-22,"u":0.01},{"x":-132,"y":-30,"u":0.035},
{"x":-120,"y":30,"u":-0.01},{"x":-120,"y":26,"u":-0.02},{"x":-120,"y":18,"u":-0.01},{"x":-120,"y":10,"u":-0.01},{"x":-120,"y":2,"u":-0.01},{"x":-120,"y":-6,"u":-0.02},{"x":-120,"y":-14,"u":-0.01},{"x":-120,"y":-22,"u":-0.03},{"x":-120,"y":-30,"u":-0.04},
{"x":-113,"y":30,"u":0.11},{"x":-113,"y":26,"u":0.08},{"x":-113,"y":18,"u":0.01},{"x":-113,"y":10,"u":0.05},{"x":-113,"y":2,"u":0.1},{"x":-113,"y":-6,"u":0.09},{"x":-113,"y":-14,"u":0.01},{"x":-113,"y":-22,"u":0.04},{"x":-113,"y":-30,"u":0.11},
{"x":-99,"y":30,"u":0.05},{"x":-99,"y":26,"u":0.03},{"x":-99,"y":18,"u":0},{"x":-99,"y":10,"u":0.02},{"x":-99,"y":2,"u":0.045},{"x":-99,"y":-6,"u":0.035},{"x":-99,"y":-14,"u":0},{"x":-99,"y":-22,"u":0.005},{"x":-99,"y":-30,"u":0.045},
{"x":-85,"y":30,"u":-0.01},{"x":-85,"y":26,"u":-0.02},{"x":-85,"y":18,"u":-0.01},{"x":-85,"y":10,"u":-0.01},{"x":-85,"y":2,"u":-0.01},{"x":-85,"y":-6,"u":-0.02},{"x":-85,"y":-14,"u":-0.01},{"x":-85,"y":-22,"u":-0.03},{"x":-85,"y":-30,"u":-0.02},
{"x":-78,"y":30,"u":0.1},{"x":-78,"y":26,"u":0.07},{"x":-78,"y":18,"u":0.02},{"x":-78,"y":10,"u":0.06},{"x":-78,"y":2,"u":0.09},{"x":-78,"y":-6,"u":0.08},{"x":-78,"y":-14,"u":0.02},{"x":-78,"y":-22,"u":0.04},{"x":-78,"y":-30,"u":0.1},
{"x":-64,"y":30,"u":0.06},{"x":-64,"y":26,"u":0.04},{"x":-64,"y":18,"u":0.02},{"x":-64,"y":10,"u":0.04},{"x":-64,"y":2,"u":0.055},{"x":-64,"y":-6,"u":0.045},{"x":-64,"y":-14,"u":0.02},{"x":-64,"y":-22,"u":0.02},{"x":-64,"y":-30,"u":0.05},
{"x":-50,"y":30,"u":0.02},{"x":-50,"y":26,"u":0.01},{"x":-50,"y":18,"u":0.02},{"x":-50,"y":10,"u":0.02},{"x":-50,"y":2,"u":0.02},{"x":-50,"y":-6,"u":0.01},{"x":-50,"y":-14,"u":0.02},{"x":-50,"y":-22,"u":0},{"x":-50,"y":-30,"u":0},
{"x":-43,"y":30,"u":0.08},{"x":-43,"y":26,"u":0.06},{"x":-43,"y":18,"u":0.04},{"x":-43,"y":10,"u":0.06},{"x":-43,"y":2,"u":0.08},{"x":-43,"y":-6,"u":0.07},{"x":-43,"y":-14,"u":0.03},{"x":-43,"y":-22,"u":0.05},{"x":-43,"y":-30,"u":0.09},
{"x":-30,"y":30,"u":0.05},{"x":-30,"y":26,"u":0.035},{"x":-30,"y":18,"u":0.03},{"x":-30,"y":10,"u":0.04},{"x":-30,"y":2,"u":0.05},{"x":-30,"y":-6,"u":0.04},{"x":-30,"y":-14,"u":0.025},{"x":-30,"y":-22,"u":0.025},{"x":-30,"y":-30,"u":0.06},
{"x":-16,"y":30,"u":0.03},{"x":-16,"y":26,"u":0.03},{"x":-16,"y":18,"u":0.03},{"x":-16,"y":10,"u":0.03},{"x":-16,"y":2,"u":0.03},{"x":-16,"y":-6,"u":0.03},{"x":-16,"y":-14,"u":0.03},{"x":-16,"y":-22,"u":0.03},{"x":-16,"y":-30,"u":0.03},
{"x":-15.9,"y":30,"u":0.03},{"x":-15.9,"y":-30,"u":0.03},{"x":-10,"y":30,"u":0.1},{"x":-10,"y":-30,"u":0.1},{"x":0,"y":30,"u":0.07},{"x":0,"y":-30,"u":0.07},{"x":10,"y":30,"u":0.045},{"x":10,"y":-30,"u":0.045},{"x":18,"y":30,"u":0.07},{"x":18,"y":-30,"u":0.07},{"x":24,"y":30,"u":0.05},{"x":24,"y":-30,"u":0.05},{"x":30,"y":30,"u":0.07},{"x":30,"y":-30,"u":0.07},{"x":38,"y":30,"u":0.05},{"x":38,"y":-30,"u":0.05},{"x":46,"y":30,"u":0.07},{"x":46,"y":-30,"u":0.07},{"x":52,"y":30,"u":0.05},{"x":52,"y":-30,"u":0.05},
{"x":56,"y":30,"u":0.055},{"x":56,"y":-30,"u":0.055},{"x":60,"y":30,"u":0.09},{"x":60,"y":-30,"u":0.09},{"x":63,"y":30,"u":0.08},{"x":63,"y":-30,"u":0.08},{"x":66,"y":30,"u":0.065},{"x":66,"y":-30,"u":0.065},{"x":69,"y":30,"u":0.05},{"x":69,"y":-30,"u":0.05},
{"x":73,"y":30,"u":0.12},{"x":73,"y":-30,"u":0.12},{"x":76,"y":30,"u":0.1},{"x":76,"y":-30,"u":0.1},{"x":79,"y":30,"u":0.07},{"x":79,"y":-30,"u":0.07},{"x":82,"y":30,"u":0.045},{"x":82,"y":-30,"u":0.045},
{"x":86,"y":30,"u":0.135},{"x":86,"y":-30,"u":0.135},{"x":89,"y":30,"u":0.11},{"x":89,"y":-30,"u":0.11},{"x":92,"y":30,"u":0.08},{"x":92,"y":-30,"u":0.08},{"x":95,"y":30,"u":0.04},{"x":95,"y":-30,"u":0.04},
{"x":99,"y":30,"u":0.15},{"x":99,"y":-30,"u":0.15},{"x":102,"y":30,"u":0.12},{"x":102,"y":-30,"u":0.12},{"x":105,"y":30,"u":0.08},{"x":105,"y":-30,"u":0.08},{"x":108,"y":30,"u":0.04},{"x":108,"y":-30,"u":0.04},
{"x":112,"y":30,"u":0.165},{"x":112,"y":-30,"u":0.165},{"x":115,"y":30,"u":0.13},{"x":115,"y":-30,"u":0.13},{"x":118,"y":30,"u":0.085},{"x":118,"y":-30,"u":0.085},{"x":121,"y":30,"u":0.035},{"x":121,"y":-30,"u":0.035},
{"x":125,"y":30,"u":0.18},{"x":125,"y":-30,"u":0.18},{"x":128,"y":30,"u":0.14},{"x":128,"y":-30,"u":0.14},{"x":131,"y":30,"u":0.09},{"x":131,"y":-30,"u":0.09},{"x":134,"y":30,"u":0.03},{"x":134,"y":-30,"u":0.03},
{"x":138,"y":30,"u":0.19},{"x":138,"y":-30,"u":0.19},{"x":141,"y":30,"u":0.15},{"x":141,"y":-30,"u":0.15},{"x":144,"y":30,"u":0.09},{"x":144,"y":-30,"u":0.09},{"x":147,"y":30,"u":0.03},{"x":147,"y":-30,"u":0.03},
{"x":151,"y":30,"u":0.2},{"x":151,"y":-30,"u":0.2},{"x":154,"y":30,"u":0.16},{"x":154,"y":-30,"u":0.16},{"x":157,"y":30,"u":0.09},{"x":157,"y":-30,"u":0.09},{"x":160,"y":30,"u":0.025},{"x":160,"y":-30,"u":0.025},
{"x":164,"y":30,"u":0.21},{"x":164,"y":-30,"u":0.21},{"x":167,"y":30,"u":0.165},{"x":167,"y":-30,"u":0.165},{"x":170,"y":30,"u":0.09},{"x":170,"y":-30,"u":0.09},{"x":173,"y":30,"u":0.02},{"x":173,"y":-30,"u":0.02},
{"x":177,"y":30,"u":0.22},{"x":177,"y":-30,"u":0.22},{"x":180,"y":30,"u":0.17},{"x":180,"y":-30,"u":0.17},{"x":183,"y":30,"u":0.09},{"x":183,"y":-30,"u":0.09},{"x":186,"y":30,"u":0.02},{"x":186,"y":-30,"u":0.02},
{"x":190,"y":30,"u":0.23},{"x":190,"y":-30,"u":0.23},{"x":193,"y":30,"u":0.18},{"x":193,"y":-30,"u":0.18},{"x":196,"y":30,"u":0.09},{"x":196,"y":-30,"u":0.09},{"x":199,"y":30,"u":0.015},{"x":199,"y":-30,"u":0.015},
{"x":203,"y":30,"u":0.24},{"x":203,"y":-30,"u":0.24},{"x":206,"y":30,"u":0.18},{"x":206,"y":-30,"u":0.18},{"x":209,"y":30,"u":0.09},{"x":209,"y":-30,"u":0.09},{"x":212,"y":30,"u":0.015},{"x":212,"y":-30,"u":0.015},
{"x":216,"y":30,"u":0.25},{"x":216,"y":-30,"u":0.25},{"x":219,"y":30,"u":0.19},{"x":219,"y":-30,"u":0.19},{"x":222,"y":30,"u":0.09},{"x":222,"y":-30,"u":0.09},{"x":225,"y":30,"u":0.01},{"x":225,"y":-30,"u":0.01},
{"x":229,"y":30,"u":0.27},{"x":229,"y":-30,"u":0.27},{"x":231,"y":30,"u":0.24},{"x":231,"y":-30,"u":0.24},{"x":233,"y":30,"u":0.2},{"x":233,"y":-30,"u":0.2},{"x":234.5,"y":30,"u":0.15},{"x":234.5,"y":-30,"u":0.15},{"x":236,"y":30,"u":0.1},{"x":236,"y":-30,"u":0.1},{"x":237,"y":30,"u":0.05},{"x":237,"y":-30,"u":0.05},{"x":238,"y":30,"u":0},{"x":238,"y":-30,"u":0}],
"plateB":[{"x":238,"y":30,"u":0},{"x":238,"y":-30,"u":0},{"x":400,"y":30,"u":0},{"x":400,"y":-30,"u":0}],
"patchB":[{"g":1,"x":6,"y":30,"u":0.06},{"g":1,"x":6,"y":-30,"u":0.06},{"g":1,"x":50,"y":30,"u":0.06},{"g":1,"x":50,"y":-30,"u":0.06},{"g":2,"x":14,"y":30,"u":0.06},{"g":2,"x":14,"y":-30,"u":0.06},{"g":2,"x":24,"y":30,"u":0.06},{"g":2,"x":24,"y":-30,"u":0.06},{"g":3,"x":30,"y":30,"u":0.06},{"g":3,"x":30,"y":-30,"u":0.06},{"g":3,"x":42,"y":30,"u":0.06},{"g":3,"x":42,"y":-30,"u":0.06}],
"grid":[
{"x":-400,"y":-30,"u":-1,"x2":-400,"y2":30,"u2":-1},{"x":-200,"y":-30,"u":-1,"x2":-200,"y2":30,"u2":-1},{"x":0,"y":-30,"u":-1,"x2":0,"y2":30,"u2":-1},{"x":200,"y":-30,"u":-1,"x2":200,"y2":30,"u2":-1},
{"x":-400,"y":-20,"u":-1,"x2":400,"y2":-20,"u2":-1},{"x":-400,"y":0,"u":-1,"x2":400,"y2":0,"u2":-1},{"x":-400,"y":20,"u":-1,"x2":400,"y2":20,"u2":-1},{"x":-400,"y":30,"u":-1,"x2":400,"y2":30,"u2":-1},
{"x":-400,"y":30,"u":-1,"x2":-400,"y2":30,"u2":1},{"x":-200,"y":30,"u":-1,"x2":-200,"y2":30,"u2":1},{"x":0,"y":30,"u":-1,"x2":0,"y2":30,"u2":1},{"x":200,"y":30,"u":-1,"x2":200,"y2":30,"u2":1},{"x":400,"y":30,"u":-1,"x2":400,"y2":30,"u2":1},
{"x":-400,"y":30,"u":-0.5,"x2":400,"y2":30,"u2":-0.5},{"x":-400,"y":30,"u":0,"x2":400,"y2":30,"u2":0},{"x":-400,"y":30,"u":0.5,"x2":400,"y2":30,"u2":0.5},{"x":-400,"y":30,"u":1,"x2":400,"y2":30,"u2":1},
{"x":-400,"y":-20,"u":-1,"x2":-400,"y2":-20,"u2":1},{"x":-400,"y":0,"u":-1,"x2":-400,"y2":0,"u2":1},{"x":-400,"y":20,"u":-1,"x2":-400,"y2":20,"u2":1},
{"x":-400,"y":-30,"u":-0.5,"x2":-400,"y2":30,"u2":-0.5},{"x":-400,"y":-30,"u":0,"x2":-400,"y2":30,"u2":0},{"x":-400,"y":-30,"u":0.5,"x2":-400,"y2":30,"u2":0.5},{"x":-400,"y":-30,"u":1,"x2":-400,"y2":30,"u2":1}],
"axes":[
{"x":-400,"y":-30,"u":-1,"x2":400,"y2":-30,"u2":-1},{"x":400,"y":-30,"u":-1,"x2":400,"y2":30,"u2":-1},{"x":-400,"y":-30,"u":-1,"x2":-400,"y2":-30,"u2":1},
{"x":-400,"y":-30,"u":-1,"x2":-400,"y2":-32.3,"u2":-1},{"x":-200,"y":-30,"u":-1,"x2":-200,"y2":-32.3,"u2":-1},{"x":0,"y":-30,"u":-1,"x2":0,"y2":-32.3,"u2":-1},{"x":200,"y":-30,"u":-1,"x2":200,"y2":-32.3,"u2":-1},{"x":400,"y":-30,"u":-1,"x2":400,"y2":-32.3,"u2":-1},
{"x":400,"y":-20,"u":-1,"x2":423,"y2":-20,"u2":-1},{"x":400,"y":0,"u":-1,"x2":423,"y2":0,"u2":-1},{"x":400,"y":20,"u":-1,"x2":423,"y2":20,"u2":-1},
{"x":-400,"y":-30,"u":-1,"x2":-420,"y2":-30,"u2":-1},{"x":-400,"y":-30,"u":-0.5,"x2":-420,"y2":-30,"u2":-0.5},{"x":-400,"y":-30,"u":0,"x2":-420,"y2":-30,"u2":0},{"x":-400,"y":-30,"u":0.5,"x2":-420,"y2":-30,"u2":0.5},{"x":-400,"y":-30,"u":1,"x2":-420,"y2":-30,"u2":1}],
"xlab":[{"x":-400,"y":-30,"u":-1,"t":"-400"},{"x":-200,"y":-30,"u":-1,"t":"-200"},{"x":0,"y":-30,"u":-1,"t":"0"},{"x":200,"y":-30,"u":-1,"t":"200"},{"x":400,"y":-30,"u":-1,"t":"400"}],
"ylab":[{"x":400,"y":-20,"u":-1,"t":"-20"},{"x":400,"y":0,"u":-1,"t":"0"},{"x":400,"y":20,"u":-1,"t":"20"}],
"ulab":[{"x":-400,"y":-30,"u":-1,"t":"-1"},{"x":-400,"y":-30,"u":-0.5,"t":"-0.5"},{"x":-400,"y":-30,"u":0,"t":"0"},{"x":-400,"y":-30,"u":0.5,"t":"0.5"},{"x":-400,"y":-30,"u":1,"t":"1"}],
"titleU":[{"p":"a","x":-400,"y":-30,"u":0,"t":"u(x, y, 100)"},{"p":"b","x":-400,"y":-30,"u":0,"t":"u(x, y, 300)"}],
"panelLab":[{"p":"a","x":0,"y":-30,"u":-1,"t":"a"},{"p":"b","x":0,"y":-30,"u":-1,"t":"b"}],
"barA":[{"v":0.6},{"v":0.4},{"v":0.2},{"v":0},{"v":-0.2},{"v":-0.4}],
"barB":[{"v":0.25},{"v":0.2},{"v":0.15},{"v":0.1},{"v":0.05},{"v":0},{"v":-0.05},{"v":-0.1},{"v":-0.15}]
},
"resolve":{"scale":{"color":"independent","stroke":"independent"}},
"layer":[
{"data":{"name":"grid"},"transform":[{"calculate":"[222,1796]","as":"bx"},{"flatten":["bx"]},{"calculate":"datum.bx+(datum.x+400)*0.785+(datum.y+30)*4.93","as":"sx"},{"calculate":"778+(datum.x+400)*0.1713-(datum.y+30)*4.83-(datum.u+1)*236.5","as":"sy"},{"calculate":"datum.bx+(datum.x2+400)*0.785+(datum.y2+30)*4.93","as":"sx2"},{"calculate":"778+(datum.x2+400)*0.1713-(datum.y2+30)*4.83-(datum.u2+1)*236.5","as":"sy2"}],"mark":{"type":"rule","color":"#dcdcdc","strokeWidth":1.5},"encoding":{"x":{"field":"sx","type":"quantitative","scale":{"domain":[0,3022],"nice":false,"zero":false},"axis":null},"y":{"field":"sy","type":"quantitative","scale":{"domain":[1168,0],"nice":false,"zero":false},"axis":null},"x2":{"field":"sx2"},"y2":{"field":"sy2"}}},
{"data":{"name":"surfA"},"transform":[{"calculate":"datum.x>-10?1:0","as":"g"},{"window":[{"op":"lead","field":"y","as":"yn"},{"op":"lead","field":"u","as":"un"}],"groupby":["g","x"],"sort":[{"field":"y","order":"descending"}]},{"window":[{"op":"lead","field":"x","as":"xe"},{"op":"lead","field":"u","as":"ue"},{"op":"lead","field":"un","as":"ud"}],"groupby":["g","y"],"sort":[{"field":"x"}]},{"filter":"isValid(datum.yn)&&isValid(datum.xe)"},{"calculate":"[datum.x,datum.x,datum.xe,datum.xe]","as":"qx"},{"calculate":"[datum.y,datum.yn,datum.yn,datum.y]","as":"qy"},{"calculate":"[datum.u,datum.un,datum.ud,datum.ue]","as":"qu"},{"calculate":"[0,1,2,3]","as":"i"},{"calculate":"(datum.u+datum.un+datum.ud+datum.ue)/4","as":"v"},{"calculate":"'c'+datum.x+'_'+datum.y","as":"k"},{"flatten":["qx","qy","qu","i"]},{"calculate":"222+(datum.qx+400)*0.785+(datum.qy+30)*4.93","as":"sx"},{"calculate":"778+(datum.qx+400)*0.1713-(datum.qy+30)*4.83-(datum.qu+1)*236.5","as":"sy"}],"mark":{"type":"line","filled":true,"strokeWidth":1,"interpolate":"linear"},"encoding":{"x":{"field":"sx","type":"quantitative","axis":null},"y":{"field":"sy","type":"quantitative","axis":null},"detail":{"field":"k"},"order":{"field":"i"},"color":{"field":"v","type":"quantitative","scale":{"domain":[-0.417,-0.3137,-0.2104,-0.1071,-0.0038,0.0685,0.1512,0.2235,0.2854,0.3371,0.3887,0.4507,0.5127,0.5644,0.616],"range":["#3E26A8","#4A3CE0","#3D6BFF","#2B8EF0","#16ACDC","#00BBC8","#2AC5A0","#52CD7E","#8FCB50","#BCC42E","#DDB92F","#FEB83B","#FDCB2D","#F6E323","#F9FB15"]},"legend":null},"stroke":{"field":"v","type":"quantitative","scale":{"domain":[-0.417,-0.3137,-0.2104,-0.1071,-0.0038,0.0685,0.1512,0.2235,0.2854,0.3371,0.3887,0.4507,0.5127,0.5644,0.616],"range":["#3E26A8","#4A3CE0","#3D6BFF","#2B8EF0","#16ACDC","#00BBC8","#2AC5A0","#52CD7E","#8FCB50","#BCC42E","#DDB92F","#FEB83B","#FDCB2D","#F6E323","#F9FB15"]},"legend":null}}},
{"data":{"name":"plateA"},"transform":[{"window":[{"op":"lead","field":"y","as":"yn"},{"op":"lead","field":"u","as":"un"}],"groupby":["x"],"sort":[{"field":"y","order":"descending"}]},{"window":[{"op":"lead","field":"x","as":"xe"},{"op":"lead","field":"u","as":"ue"},{"op":"lead","field":"un","as":"ud"}],"groupby":["y"],"sort":[{"field":"x"}]},{"filter":"isValid(datum.yn)&&isValid(datum.xe)"},{"calculate":"[datum.x,datum.x,datum.xe,datum.xe]","as":"qx"},{"calculate":"[datum.y,datum.yn,datum.yn,datum.y]","as":"qy"},{"calculate":"[datum.u,datum.un,datum.ud,datum.ue]","as":"qu"},{"calculate":"[0,1,2,3]","as":"i"},{"calculate":"'c'+datum.x+'_'+datum.y","as":"k"},{"flatten":["qx","qy","qu","i"]},{"calculate":"222+(datum.qx+400)*0.785+(datum.qy+30)*4.93","as":"sx"},{"calculate":"778+(datum.qx+400)*0.1713-(datum.qy+30)*4.83-(datum.qu+1)*236.5","as":"sy"}],"mark":{"type":"line","filled":true,"color":"#126D8F","strokeWidth":0},"encoding":{"x":{"field":"sx","type":"quantitative","axis":null},"y":{"field":"sy","type":"quantitative","axis":null},"detail":{"field":"k"},"order":{"field":"i"},"opacity":{"field":"x","type":"quantitative","scale":{"domain":[125,175],"range":[0.05,1]},"legend":null}}},
{"data":{"name":"patchA"},"transform":[{"window":[{"op":"lead","field":"y","as":"yn"},{"op":"lead","field":"u","as":"un"}],"groupby":["g","x"],"sort":[{"field":"y","order":"descending"}]},{"window":[{"op":"lead","field":"x","as":"xe"},{"op":"lead","field":"u","as":"ue"},{"op":"lead","field":"un","as":"ud"}],"groupby":["g","y"],"sort":[{"field":"x"}]},{"filter":"isValid(datum.yn)&&isValid(datum.xe)"},{"calculate":"[datum.x,datum.x,datum.xe,datum.xe]","as":"qx"},{"calculate":"[datum.y,datum.yn,datum.yn,datum.y]","as":"qy"},{"calculate":"[datum.u,datum.un,datum.ud,datum.ue]","as":"qu"},{"calculate":"[0,1,2,3]","as":"i"},{"calculate":"'c'+datum.g+'_'+datum.x","as":"k"},{"flatten":["qx","qy","qu","i"]},{"calculate":"222+(datum.qx+400)*0.785+(datum.qy+30)*4.93","as":"sx"},{"calculate":"778+(datum.qx+400)*0.1713-(datum.qy+30)*4.83-(datum.qu+1)*236.5","as":"sy"}],"mark":{"type":"line","filled":true,"color":"#1F7A66","opacity":0.28,"strokeWidth":0},"encoding":{"x":{"field":"sx","type":"quantitative","axis":null},"y":{"field":"sy","type":"quantitative","axis":null},"detail":{"field":"k"},"order":{"field":"i"}}},
{"data":{"name":"linesA"},"transform":[{"calculate":"222+(datum.x+400)*0.785","as":"sx"},{"calculate":"778+(datum.x+400)*0.1713-(datum.u+1)*236.5","as":"sy"},{"calculate":"datum.sx+295.8","as":"sx2"},{"calculate":"datum.sy-289.8","as":"sy2"}],"mark":{"type":"rule","color":"#0B4A4A","opacity":0.22,"strokeWidth":1.5},"encoding":{"x":{"field":"sx","type":"quantitative","axis":null},"y":{"field":"sy","type":"quantitative","axis":null},"x2":{"field":"sx2"},"y2":{"field":"sy2"}}},
{"data":{"name":"surfB"},"transform":[{"calculate":"datum.x>-16?1:0","as":"g"},{"window":[{"op":"lead","field":"y","as":"yn"},{"op":"lead","field":"u","as":"un"}],"groupby":["g","x"],"sort":[{"field":"y","order":"descending"}]},{"window":[{"op":"lead","field":"x","as":"xe"},{"op":"lead","field":"u","as":"ue"},{"op":"lead","field":"un","as":"ud"}],"groupby":["g","y"],"sort":[{"field":"x"}]},{"filter":"isValid(datum.yn)&&isValid(datum.xe)"},{"calculate":"[datum.x,datum.x,datum.xe,datum.xe]","as":"qx"},{"calculate":"[datum.y,datum.yn,datum.yn,datum.y]","as":"qy"},{"calculate":"[datum.u,datum.un,datum.ud,datum.ue]","as":"qu"},{"calculate":"[0,1,2,3]","as":"i"},{"calculate":"(datum.u+datum.un+datum.ud+datum.ue)/4","as":"v"},{"calculate":"'c'+datum.x+'_'+datum.y","as":"k"},{"flatten":["qx","qy","qu","i"]},{"calculate":"1796+(datum.qx+400)*0.785+(datum.qy+30)*4.93","as":"sx"},{"calculate":"778+(datum.qx+400)*0.1713-(datum.qy+30)*4.83-(datum.qu+1)*236.5","as":"sy"}],"mark":{"type":"line","filled":true,"strokeWidth":1,"interpolate":"linear"},"encoding":{"x":{"field":"sx","type":"quantitative","axis":null},"y":{"field":"sy","type":"quantitative","axis":null},"detail":{"field":"k"},"order":{"field":"i"},"color":{"field":"v","type":"quantitative","scale":{"domain":[-0.17,-0.126,-0.082,-0.038,0.006,0.0368,0.072,0.1028,0.1292,0.1512,0.1732,0.1996,0.226,0.248,0.27],"range":["#3E26A8","#4A3CE0","#3D6BFF","#2B8EF0","#16ACDC","#00BBC8","#2AC5A0","#52CD7E","#8FCB50","#BCC42E","#DDB92F","#FEB83B","#FDCB2D","#F6E323","#F9FB15"]},"legend":null},"stroke":{"field":"v","type":"quantitative","scale":{"domain":[-0.17,-0.126,-0.082,-0.038,0.006,0.0368,0.072,0.1028,0.1292,0.1512,0.1732,0.1996,0.226,0.248,0.27],"range":["#3E26A8","#4A3CE0","#3D6BFF","#2B8EF0","#16ACDC","#00BBC8","#2AC5A0","#52CD7E","#8FCB50","#BCC42E","#DDB92F","#FEB83B","#FDCB2D","#F6E323","#F9FB15"]},"legend":null}}},
{"data":{"name":"linesB"},"transform":[{"calculate":"1796+(datum.x+400)*0.785","as":"sx"},{"calculate":"778+(datum.x+400)*0.1713-(datum.u+1)*236.5","as":"sy"},{"calculate":"datum.sx+295.8","as":"sx2"},{"calculate":"datum.sy-289.8","as":"sy2"}],"mark":{"type":"rule","color":"#0B3A3A","opacity":0.25,"strokeWidth":1.5},"encoding":{"x":{"field":"sx","type":"quantitative","axis":null},"y":{"field":"sy","type":"quantitative","axis":null},"x2":{"field":"sx2"},"y2":{"field":"sy2"}}},
{"data":{"name":"patchB"},"transform":[{"window":[{"op":"lead","field":"y","as":"yn"},{"op":"lead","field":"u","as":"un"}],"groupby":["g","x"],"sort":[{"field":"y","order":"descending"}]},{"window":[{"op":"lead","field":"x","as":"xe"},{"op":"lead","field":"u","as":"ue"},{"op":"lead","field":"un","as":"ud"}],"groupby":["g","y"],"sort":[{"field":"x"}]},{"filter":"isValid(datum.yn)&&isValid(datum.xe)"},{"calculate":"[datum.x,datum.x,datum.xe,datum.xe]","as":"qx"},{"calculate":"[datum.y,datum.yn,datum.yn,datum.y]","as":"qy"},{"calculate":"[datum.u,datum.un,datum.ud,datum.ue]","as":"qu"},{"calculate":"[0,1,2,3]","as":"i"},{"calculate":"'c'+datum.g+'_'+datum.x","as":"k"},{"flatten":["qx","qy","qu","i"]},{"calculate":"1796+(datum.qx+400)*0.785+(datum.qy+30)*4.93","as":"sx"},{"calculate":"778+(datum.qx+400)*0.1713-(datum.qy+30)*4.83-(datum.qu+1)*236.5","as":"sy"}],"mark":{"type":"line","filled":true,"color":"#053F45","opacity":0.5,"strokeWidth":0},"encoding":{"x":{"field":"sx","type":"quantitative","axis":null},"y":{"field":"sy","type":"quantitative","axis":null},"detail":{"field":"k"},"order":{"field":"i"}}},
{"data":{"name":"plateB"},"transform":[{"window":[{"op":"lead","field":"y","as":"yn"},{"op":"lead","field":"u","as":"un"}],"groupby":["x"],"sort":[{"field":"y","order":"descending"}]},{"window":[{"op":"lead","field":"x","as":"xe"},{"op":"lead","field":"u","as":"ue"},{"op":"lead","field":"un","as":"ud"}],"groupby":["y"],"sort":[{"field":"x"}]},{"filter":"isValid(datum.yn)&&isValid(datum.xe)"},{"calculate":"[datum.x,datum.x,datum.xe,datum.xe]","as":"qx"},{"calculate":"[datum.y,datum.yn,datum.yn,datum.y]","as":"qy"},{"calculate":"[datum.u,datum.un,datum.ud,datum.ue]","as":"qu"},{"calculate":"[0,1,2,3]","as":"i"},{"calculate":"'c'+datum.x+'_'+datum.y","as":"k"},{"flatten":["qx","qy","qu","i"]},{"calculate":"1796+(datum.qx+400)*0.785+(datum.qy+30)*4.93","as":"sx"},{"calculate":"778+(datum.qx+400)*0.1713-(datum.qy+30)*4.83-(datum.qu+1)*236.5","as":"sy"}],"mark":{"type":"line","filled":true,"color":"#0F4560","strokeWidth":0},"encoding":{"x":{"field":"sx","type":"quantitative","axis":null},"y":{"field":"sy","type":"quantitative","axis":null},"detail":{"field":"k"},"order":{"field":"i"}}},
{"data":{"name":"axes"},"transform":[{"calculate":"[222,1796]","as":"bx"},{"flatten":["bx"]},{"calculate":"datum.bx+(datum.x+400)*0.785+(datum.y+30)*4.93","as":"sx"},{"calculate":"778+(datum.x+400)*0.1713-(datum.y+30)*4.83-(datum.u+1)*236.5","as":"sy"},{"calculate":"datum.bx+(datum.x2+400)*0.785+(datum.y2+30)*4.93","as":"sx2"},{"calculate":"778+(datum.x2+400)*0.1713-(datum.y2+30)*4.83-(datum.u2+1)*236.5","as":"sy2"}],"mark":{"type":"rule","color":"#262626","strokeWidth":2},"encoding":{"x":{"field":"sx","type":"quantitative","axis":null},"y":{"field":"sy","type":"quantitative","axis":null},"x2":{"field":"sx2"},"y2":{"field":"sy2"}}},
{"data":{"name":"xlab"},"transform":[{"calculate":"[222,1796]","as":"bx"},{"flatten":["bx"]},{"calculate":"datum.bx+(datum.x+400)*0.785+(datum.y+30)*4.93","as":"sx"},{"calculate":"778+(datum.x+400)*0.1713-(datum.y+30)*4.83-(datum.u+1)*236.5","as":"sy"}],"mark":{"type":"text","align":"right","baseline":"middle","dx":-27,"dy":60,"font":"Liberation Sans","fontSize":50,"color":"#262626"},"encoding":{"x":{"field":"sx","type":"quantitative","axis":null},"y":{"field":"sy","type":"quantitative","axis":null},"text":{"field":"t"}}},
{"data":{"name":"ylab"},"transform":[{"calculate":"[222,1796]","as":"bx"},{"flatten":["bx"]},{"calculate":"datum.bx+(datum.x+400)*0.785+(datum.y+30)*4.93","as":"sx"},{"calculate":"778+(datum.x+400)*0.1713-(datum.y+30)*4.83-(datum.u+1)*236.5","as":"sy"}],"mark":{"type":"text","align":"left","baseline":"middle","dx":34,"dy":43,"font":"Liberation Sans","fontSize":50,"color":"#262626"},"encoding":{"x":{"field":"sx","type":"quantitative","axis":null},"y":{"field":"sy","type":"quantitative","axis":null},"text":{"field":"t"}}},
{"data":{"name":"ulab"},"transform":[{"calculate":"[222,1796]","as":"bx"},{"flatten":["bx"]},{"calculate":"datum.bx+(datum.x+400)*0.785+(datum.y+30)*4.93","as":"sx"},{"calculate":"778+(datum.x+400)*0.1713-(datum.y+30)*4.83-(datum.u+1)*236.5","as":"sy"}],"mark":{"type":"text","align":"right","baseline":"middle","dx":-40,"dy":-3,"font":"Liberation Sans","fontSize":50,"color":"#262626"},"encoding":{"x":{"field":"sx","type":"quantitative","axis":null},"y":{"field":"sy","type":"quantitative","axis":null},"text":{"field":"t"}}},
{"data":{"values":[{"x":0,"y":-30,"u":-1,"t":"x"}]},"transform":[{"calculate":"[222,1796]","as":"bx"},{"flatten":["bx"]},{"calculate":"datum.bx+(datum.x+400)*0.785+(datum.y+30)*4.93","as":"sx"},{"calculate":"778+(datum.x+400)*0.1713-(datum.y+30)*4.83-(datum.u+1)*236.5","as":"sy"}],"mark":{"type":"text","align":"center","baseline":"middle","dx":-46,"dy":151,"font":"Liberation Serif","fontStyle":"italic","fontSize":60,"color":"#262626"},"encoding":{"x":{"field":"sx","type":"quantitative","axis":null},"y":{"field":"sy","type":"quantitative","axis":null},"text":{"field":"t"}}},
{"data":{"values":[{"x":400,"y":0,"u":-1,"t":"y"}]},"transform":[{"calculate":"[222,1796]","as":"bx"},{"flatten":["bx"]},{"calculate":"datum.bx+(datum.x+400)*0.785+(datum.y+30)*4.93","as":"sx"},{"calculate":"778+(datum.x+400)*0.1713-(datum.y+30)*4.83-(datum.u+1)*236.5","as":"sy"}],"mark":{"type":"text","align":"center","baseline":"middle","dx":97,"dy":190,"font":"Liberation Serif","fontStyle":"italic","fontSize":60,"color":"#262626"},"encoding":{"x":{"field":"sx","type":"quantitative","axis":null},"y":{"field":"sy","type":"quantitative","axis":null},"text":{"field":"t"}}},
{"data":{"name":"titleU"},"transform":[{"calculate":"datum.p=='a'?222:1796","as":"bx"},{"calculate":"datum.bx-164","as":"sx"},{"calculate":"778-(datum.u+1)*236.5","as":"sy"}],"mark":{"type":"text","align":"center","baseline":"middle","angle":270,"font":"Liberation Serif","fontStyle":"italic","fontSize":60,"color":"#262626"},"encoding":{"x":{"field":"sx","type":"quantitative","axis":null},"y":{"field":"sy","type":"quantitative","axis":null},"text":{"field":"t"}}},
{"data":{"name":"panelLab"},"transform":[{"calculate":"(datum.p=='a'?222:1796)+(datum.x+400)*0.785","as":"sx"},{"calculate":"778+(datum.x+400)*0.1713","as":"sy"}],"mark":{"type":"text","align":"center","baseline":"middle","dx":218,"dy":271,"font":"Liberation Serif","fontWeight":"bold","fontSize":70,"color":"#000000"},"encoding":{"x":{"field":"sx","type":"quantitative","axis":null},"y":{"field":"sy","type":"quantitative","axis":null},"text":{"field":"t"}}},
{"data":{"name":"panelLab"},"transform":[{"calculate":"(datum.p=='a'?222:1796)+(datum.x+400)*0.785","as":"sx"},{"calculate":"778+(datum.x+400)*0.1713","as":"sy"}],"mark":{"type":"text","align":"center","baseline":"middle","dx":184,"dy":266,"font":"Liberation Serif","fontSize":70,"color":"#000000","text":"("},"encoding":{"x":{"field":"sx","type":"quantitative","axis":null},"y":{"field":"sy","type":"quantitative","axis":null}}},
{"data":{"name":"panelLab"},"transform":[{"calculate":"(datum.p=='a'?222:1796)+(datum.x+400)*0.785","as":"sx"},{"calculate":"778+(datum.x+400)*0.1713","as":"sy"}],"mark":{"type":"text","align":"center","baseline":"middle","dx":252,"dy":266,"font":"Liberation Serif","fontSize":70,"color":"#000000","text":")"},"encoding":{"x":{"field":"sx","type":"quantitative","axis":null},"y":{"field":"sy","type":"quantitative","axis":null}}},
{"data":{"name":"barA"},"transform":[{"calculate":"1292","as":"sx"},{"calculate":"16+(0.616-datum.v)*870","as":"sy"}],"mark":{"type":"rect"},"encoding":{"x":{"field":"sx","type":"quantitative","axis":null},"x2":{"field":"sx"},"y":{"field":"sy","type":"quantitative","axis":null},"y2":{"field":"sy"},"color":{"field":"v","type":"quantitative","scale":{"domain":[-0.417,-0.3137,-0.2104,-0.1071,-0.0038,0.0685,0.1512,0.2235,0.2854,0.3371,0.3887,0.4507,0.5127,0.5644,0.616],"range":["#3E26A8","#4A3CE0","#3D6BFF","#2B8EF0","#16ACDC","#00BBC8","#2AC5A0","#52CD7E","#8FCB50","#BCC42E","#DDB92F","#FEB83B","#FDCB2D","#F6E323","#F9FB15"]},"legend":{"type":"gradient","direction":"vertical","orient":"none","legendX":1248,"legendY":16,"gradientLength":899,"gradientThickness":55,"values":[-0.4,-0.2,0,0.2,0.4,0.6],"title":null,"labelFontSize":46,"labelFont":"Liberation Sans","labelColor":"#262626","gradientStrokeColor":"#262626","gradientStrokeWidth":1.5,"labelOffset":17,"labelOverlap":false,"padding":0,"labelExpr":"''+datum.value"}}}},
{"data":{"name":"barB"},"transform":[{"calculate":"2864","as":"sx"},{"calculate":"15+(0.27-datum.v)*2045","as":"sy"}],"mark":{"type":"rect"},"encoding":{"x":{"field":"sx","type":"quantitative","axis":null},"x2":{"field":"sx"},"y":{"field":"sy","type":"quantitative","axis":null},"y2":{"field":"sy"},"color":{"field":"v","type":"quantitative","scale":{"domain":[-0.17,-0.126,-0.082,-0.038,0.006,0.0368,0.072,0.1028,0.1292,0.1512,0.1732,0.1996,0.226,0.248,0.27],"range":["#3E26A8","#4A3CE0","#3D6BFF","#2B8EF0","#16ACDC","#00BBC8","#2AC5A0","#52CD7E","#8FCB50","#BCC42E","#DDB92F","#FEB83B","#FDCB2D","#F6E323","#F9FB15"]},"legend":{"type":"gradient","direction":"vertical","orient":"none","legendX":2821,"legendY":15,"gradientLength":900,"gradientThickness":54,"values":[-0.15,-0.1,-0.05,0,0.05,0.1,0.15,0.2,0.25],"title":null,"labelFontSize":46,"labelFont":"Liberation Sans","labelColor":"#262626","gradientStrokeColor":"#262626","gradientStrokeWidth":1.5,"labelOffset":19,"labelOverlap":false,"padding":0,"labelExpr":"''+datum.value"}}}},
{"data":{"name":"barA"},"transform":[{"calculate":"1292","as":"sx"},{"calculate":"1303","as":"sx2"},{"calculate":"16+(0.616-datum.v)*870","as":"sy"}],"mark":{"type":"rule","color":"#262626","strokeWidth":2},"encoding":{"x":{"field":"sx","type":"quantitative","axis":null},"x2":{"field":"sx2"},"y":{"field":"sy","type":"quantitative","axis":null}}},
{"data":{"name":"barB"},"transform":[{"calculate":"2864","as":"sx"},{"calculate":"2875","as":"sx2"},{"calculate":"15+(0.27-datum.v)*2045","as":"sy"}],"mark":{"type":"rule","color":"#262626","strokeWidth":2},"encoding":{"x":{"field":"sx","type":"quantitative","axis":null},"x2":{"field":"sx2"},"y":{"field":"sy","type":"quantitative","axis":null}}}
]}
